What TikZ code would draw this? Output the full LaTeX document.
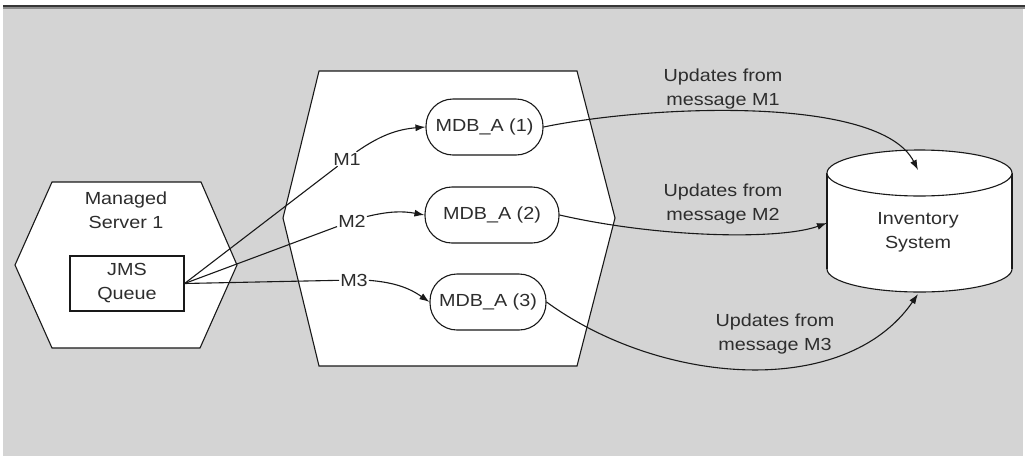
\documentclass[tikz,border=0pt]{standalone}
\usepackage{fontspec}
\setmainfont{Liberation Sans}[FakeStretch=1.13]
\usetikzlibrary{arrows.meta}
\definecolor{bggray}{RGB}{212,212,212}
\definecolor{ink}{RGB}{25,25,25}
\definecolor{txt}{RGB}{45,45,45}
\definecolor{topdark}{RGB}{55,55,55}
\definecolor{topmid}{RGB}{140,140,140}
\begin{document}
\begin{tikzpicture}[x=1pt,y=-1pt,
  every node/.style={font=\fontsize{17.5}{24}\selectfont, text=txt, align=center},
  shape line/.style={draw=ink, line width=1.1pt, fill=white},
  box/.style={shape line, rectangle, inner sep=0pt},
  mdb/.style={shape line, rectangle, rounded corners=27pt, minimum height=56pt, inner sep=0pt},
  lbl/.style={inner sep=1pt},
  conn/.style={draw=ink, line width=1.1pt},
  arr/.style={conn, -{Latex[length=10pt,width=7pt]}}
]
\useasboundingbox (0,0) rectangle (1025,456);
% background
\fill[bggray] (3,8) rectangle (1023,456);
\fill[topmid] (3,6.5) rectangle (1025,8.5);
\fill[topdark] (3,4.5) rectangle (1025,6.8);

% left hexagon (Managed Server 1)
\draw[shape line, line join=miter] (15,265) -- (52,182) -- (201,182) -- (237,265) -- (200,348) -- (52,348) -- cycle;
\node (ms) at (126,210.5) {Managed\\Server 1};

% middle hexagon
\draw[shape line, line join=miter] (283,218) -- (319,71) -- (577,71) -- (615,218) -- (577,366) -- (319,366) -- cycle;

% JMS queue
\node[box, minimum width=114pt, minimum height=55pt] (jms) at (127,283.5) {JMS\\Queue};

% MDB nodes
\node[mdb, minimum width=117pt] (mdb1) at (484.5,127) {MDB\_A (1)};
\node[mdb, minimum width=134pt] (mdb2) at (492,215) {MDB\_A (2)};
\node[mdb, minimum width=116pt] (mdb3) at (488,302) {MDB\_A (3)};

% message labels
\node[lbl] (m1) at (347,159) {M1};
\node[lbl] (m2) at (352,221) {M2};
\node[lbl] (m3) at (354,280) {M3};

\draw[conn] (jms.east) -- (m1);
\draw[conn] (jms.east) -- (m2);
\draw[conn] (jms.east) -- (m3);
\draw[arr] (m1) to[bend left=15] (mdb1.west);
\draw[arr] (m2) to[bend left=12] (mdb2.west);
\draw[arr] (m3) to[bend left=15] (mdb3.west);

% cylinder (Inventory System)
\filldraw[draw=ink, line width=1.1pt, fill=white] (919.5,269) ellipse [x radius=92.5, y radius=23];
\fill[white] (827,173) rectangle (1012,269);
\draw[draw=ink, line width=1.1pt] (827,173) -- (827,269);
\draw[draw=ink, line width=1.1pt] (1012,173) -- (1012,269);
\filldraw[draw=ink, line width=1.1pt, fill=white] (919.5,173) ellipse [x radius=92.5, y radius=23];
\node (inv) at (918,232) {Inventory\\System};
\coordinate (invtop) at (918,170);
\coordinate (invwest) at (827,223);
\coordinate (invbot) at (918,294);

% update arrows
\draw[arr] (mdb1.east) .. controls (650,105) and (880,95) .. (invtop);
\draw[arr] (mdb2.east) .. controls (660,238) and (780,240) .. (invwest);
\draw[arr] (mdb3.east) .. controls (660,385) and (845,400) .. (invbot);

% update labels
\node (u1) at (723,89) {Updates from\\message M1};
\node (u2) at (723,204) {Updates from\\message M2};
\node (u3) at (775,333.5) {Updates from\\message M3};
\end{tikzpicture}
\end{document}
